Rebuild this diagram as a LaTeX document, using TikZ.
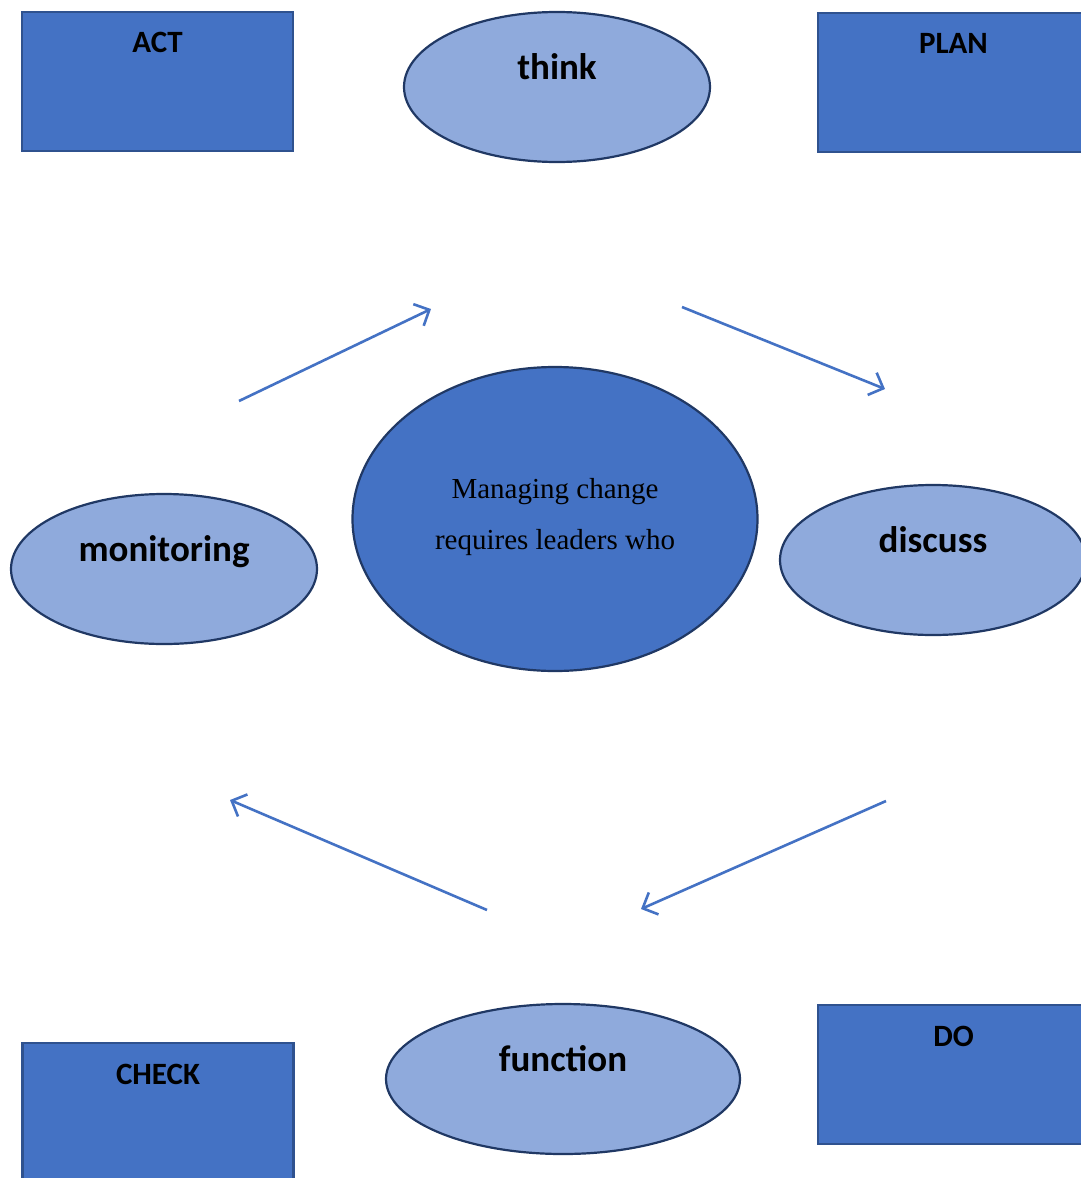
\documentclass[tikz,border=0pt]{standalone}
\usepackage{fontspec}
\setmainfont{Liberation Serif}
\newfontfamily\calib{Carlito}
\usetikzlibrary{shapes.geometric, arrows.meta}
\definecolor{boxblue}{HTML}{4472C4}
\definecolor{boxline}{HTML}{2F528F}
\definecolor{lightblue}{HTML}{8FAADC}
\definecolor{darkline}{HTML}{203864}

\begin{document}
\begin{tikzpicture}[x=1pt, y=-1pt,
    pdca/.style={draw=boxline, line width=2.2pt, fill=boxblue, inner sep=0pt,
      minimum width=271pt, minimum height=139pt},
    bubble/.style={ellipse, draw=darkline, line width=2.2pt, fill=lightblue, inner sep=0pt,
      minimum width=306pt, minimum height=150pt},
    boxtext/.style={anchor=base, font=\calib\bfseries\fontsize{31}{31}\selectfont},
    bubtext/.style={anchor=base, font=\calib\bfseries\fontsize{37}{37}\selectfont},
    flow/.style={draw=boxblue, line width=2.6pt, -{Straight Barb[length=12pt, width=24pt, line width=2.6pt]}}]
  %tikz  PDCA, managing change
    \useasboundingbox (0,0) rectangle (1081,1178);
    \node[pdca] (act) at (157.5,81.5) {};
    \node[pdca] (plan) at (953.5,82.5) {};
    \node[pdca] (check) at (158,1112.5) {};
    \node[pdca] (do) at (953.5,1074.5) {};
    \node[boxtext] at ([yshift=-42pt]act.north) {ACT};
    \node[boxtext] at ([yshift=-42pt]plan.north) {PLAN};
    \node[boxtext] at ([yshift=-43pt]check.north) {CHECK};
    \node[boxtext] at ([yshift=-43pt]do.north) {DO};
    \node[bubble] (think) at (557,87) {};
    \node[bubble] (monitoring) at (164,569) {};
    \node[bubble] (discuss) at (933,560) {};
    \node[bubble, minimum width=354pt] (function) at (563,1079) {};
    \node[bubtext] at ([yshift=8pt]think.center) {think};
    \node[bubtext] at ([yshift=8pt]monitoring.center) {monitoring};
    \node[bubtext] at ([yshift=8pt]discuss.center) {discuss};
    \node[bubtext] at ([yshift=8pt]function.center) {function};
    \node[ellipse, draw=darkline, line width=2.2pt, fill=boxblue, inner sep=0pt,
      minimum width=405pt, minimum height=304pt] (centre) at (555,519) {};
    \node[align=center, font=\fontsize{29}{51}\selectfont] (idea) at (555,517)
      {Managing change\\requires leaders who};
    \coordinate (a1) at (239,401);
    \coordinate (b1) at (431,309);
    \coordinate (a2) at (682,307);
    \coordinate (b2) at (885,389);
    \coordinate (a3) at (886,801);
    \coordinate (b3) at (641,909);
    \coordinate (a4) at (487,910);
    \coordinate (b4) at (230,800);
    \draw[flow] (a1) -- (b1);
    \draw[flow] (a2) -- (b2);
    \draw[flow] (a3) -- (b3);
    \draw[flow] (a4) -- (b4);
  \end{tikzpicture}
\end{document}
